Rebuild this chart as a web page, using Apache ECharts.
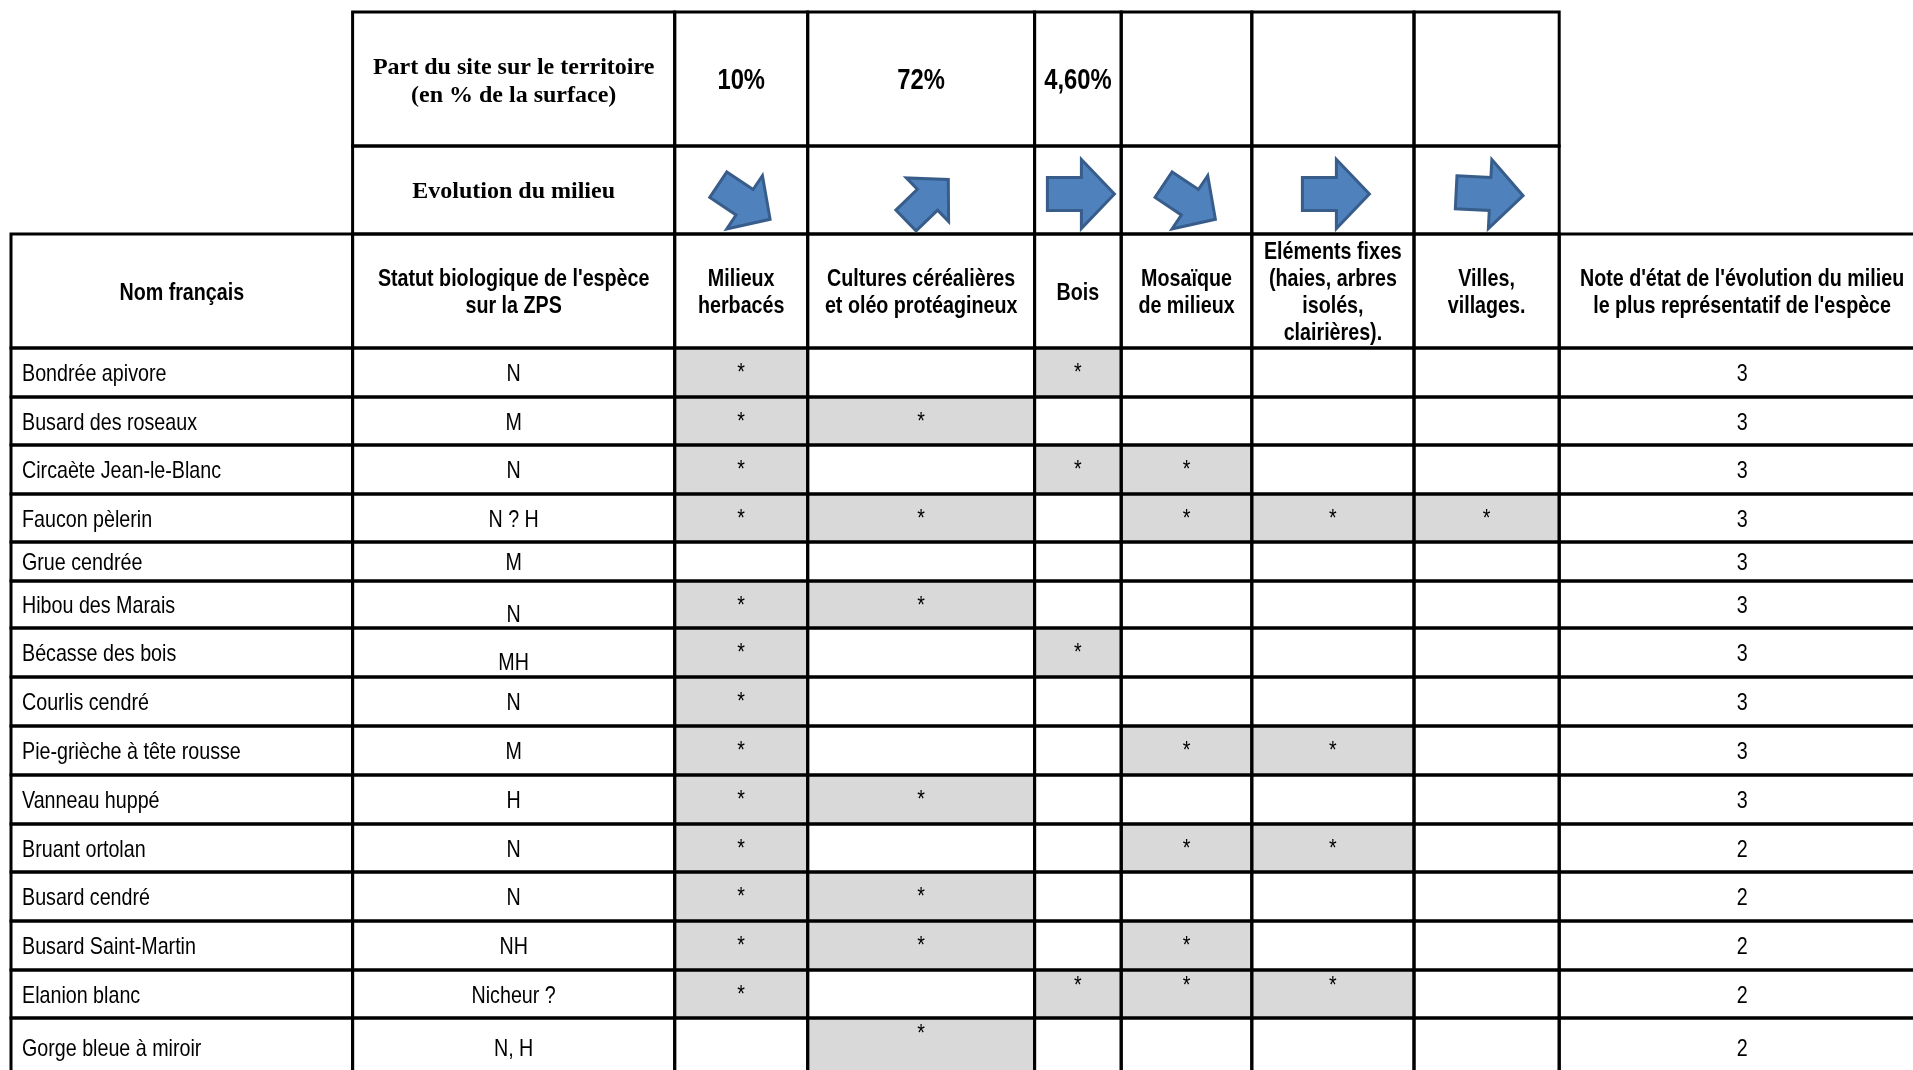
<!DOCTYPE html>
<html>
<head>
<meta charset="utf-8">
<title>Espèces et évolution des milieux</title>
<script src="https://cdn.jsdelivr.net/npm/echarts@6/dist/echarts.min.js"></script>
<style>
  html, body { margin: 0; padding: 0; background: #fff; }
  #main { width: 1913px; height: 1070px; }
</style>
</head>
<body>
<div id="main"></div>
<script>
// ---- data ----
const speciesNames = ['Bondrée apivore', 'Busard des roseaux', 'Circaète Jean-le-Blanc', 'Faucon pèlerin',
  'Grue cendrée', 'Hibou des Marais', 'Bécasse des bois', 'Courlis cendré', 'Pie-grièche à tête rousse',
  'Vanneau huppé', 'Bruant ortolan', 'Busard cendré', 'Busard Saint-Martin', 'Elanion blanc', 'Gorge bleue à miroir'];
const statusCodes = ['N', 'M', 'N', 'N ? H', 'M', 'N', 'MH', 'N', 'M', 'H', 'N', 'N', 'NH', 'Nicheur ?', 'N, H'];
const stateNotes = [3, 3, 3, 3, 3, 3, 3, 3, 3, 3, 2, 2, 2, 2, 2];
const habitatLabels = ['Milieux\nherbacés', 'Cultures céréalières\net oléo protéagineux', 'Bois', 'Mosaïque\nde milieux',
  'Eléments fixes\n(haies, arbres\nisolés,\nclairières).', 'Villes,\nvillages.'];
const siteShares = ['10%', '72%', '4,60%', '', '', ''];
const evolutionTrend = ['baisse', 'hausse', 'stable', 'baisse', 'stable', 'stable'];
// habitats used by each species (index in habitatLabels)
const speciesHabitats = [[0, 2], [0, 1], [0, 2, 3], [0, 1, 3, 4, 5], [], [0, 1], [0, 2], [0], [0, 3, 4],
  [0, 1], [0, 3, 4], [0, 1], [0, 1, 3], [0, 2, 3, 4], [1]];
const headShare = 'Part du site sur le territoire\n(en % de la surface)';
const headEvolution = 'Evolution du milieu';
const headName = 'Nom français';
const headStatus = "Statut biologique de l'espèce\nsur la ZPS";
const headNote = "Note d'état de l'évolution du milieu\nle plus représentatif de l'espèce";

// ---- layout ----
const colEdges = [11, 352.6, 674.7, 807.7, 1034.6, 1121.2, 1251.8, 1414, 1559.2, 1925];
const rowEdges = [12, 146, 234, 348, 397, 445, 494, 542, 581, 628, 677, 726, 775, 824, 872, 921, 970, 1018, 1076];
const lowStatus = [5, 6];
const highStars = ['13-2', '13-3', '13-4', '14-1'];
// no narrow font installed: squeeze Liberation Sans horizontally instead
const SANS = '"Liberation Sans", Arial, sans-serif';
const SERIF = '"Liberation Serif", "Times New Roman", serif';
const NARROW_SCALE = 0.82;
const TEXT_DY = 2;
const trendAngle = { baisse: -0.59, hausse: 0.77, stable: 0 };
const trendSize = { baisse: 0.93, hausse: 0.88, stable: 1 };
const arrowShift = [[0, 0], [3, -2], [0, 0], [0, 0], [0, 0], [0, 0]];
const arrowTilt = [0, 0, 0, 0, 0, -0.05];

function box(api, r, c) {
  const p0 = api.coord([colEdges[c], rowEdges[r]]);
  const p1 = api.coord([colEdges[c + 1], rowEdges[r + 1]]);
  return { x: p0[0], y: p0[1], width: p1[0] - p0[0], height: p1[1] - p0[1] };
}

function label(text, x, y, opt, scaleX) {
  return {
    type: 'text', x: x, y: y + TEXT_DY,
    scaleX: scaleX == null ? NARROW_SCALE : scaleX,
    style: Object.assign({
      text: text, fill: '#000', fontFamily: SANS, fontSize: 24, fontWeight: 'normal',
      align: 'center', verticalAlign: 'middle', lineHeight: 27
    }, opt || {})
  };
}

function cellText(r, c, b) {
  const cx = b.x + b.width / 2, cy = b.y + b.height / 2;
  if (r === 0) {
    if (c === 1) return label(headShare, cx, cy + 1, { fontFamily: SERIF, fontWeight: 'bold', fontSize: 24, lineHeight: 28 }, 1);
    return label(siteShares[c - 2], cx, cy, { fontWeight: 'bold', fontSize: 29 });
  }
  if (r === 1) {
    if (c === 1) return label(headEvolution, cx, cy, { fontFamily: SERIF, fontWeight: 'bold', fontSize: 24 }, 1);
    return null;
  }
  if (r === 2) {
    const t = c === 0 ? headName : c === 1 ? headStatus : c === 8 ? headNote : habitatLabels[c - 2];
    return label(t, cx, cy, { fontWeight: 'bold' });
  }
  const i = r - 3;
  if (c === 0) return label(speciesNames[i], b.x + 11, cy, { align: 'left' });
  if (c === 1) return label(statusCodes[i], cx, cy + (lowStatus.indexOf(i) >= 0 ? 9 : 0));
  if (c === 8) return label(String(stateNotes[i]), cx, cy);
  return null;
}

// every cell of the table
const tableCells = [];
for (let c = 1; c <= 7; c++) { tableCells.push([0, c]); tableCells.push([1, c]); }
for (let r = 2; r < rowEdges.length - 1; r++) {
  for (let c = 0; c <= 8; c++) tableCells.push([r, c]);
}
// shaded cells (habitat used)
const shadedCells = [];
speciesHabitats.forEach(function (list, i) {
  list.forEach(function (h) { shadedCells.push([i + 3, h + 2]); });
});

const chart = echarts.init(document.getElementById('main'));
const option = {
  backgroundColor: '#fff',
  animation: false,
  grid: { left: 0, right: 0, top: 0, bottom: 0 },
  xAxis: { type: 'value', min: 0, max: 1913, show: false },
  yAxis: { type: 'value', min: 0, max: 1070, inverse: true, show: false },
  series: [
    {
      name: 'habitats',
      type: 'custom',
      z: 1,
      data: shadedCells,
      renderItem: function (params, api) {
        const r = api.value(0), c = api.value(1);
        const b = box(api, r, c);
        const high = highStars.indexOf((r - 3) + '-' + (c - 2)) >= 0;
        return {
          type: 'group',
          children: [
            { type: 'rect', shape: b, style: { fill: '#d9d9d9' } },
            label('*', b.x + b.width / 2, b.y + (high ? 14 : 23.5))
          ]
        };
      }
    },
    {
      name: 'tableau',
      type: 'custom',
      z: 2,
      data: tableCells,
      renderItem: function (params, api) {
        const r = api.value(0), c = api.value(1);
        const b = box(api, r, c);
        const children = [{ type: 'rect', shape: b, style: { fill: 'none', stroke: '#000', lineWidth: 3 } }];
        const t = cellText(r, c, b);
        if (t) children.push(t);
        return { type: 'group', children: children };
      }
    },
    {
      name: 'evolution',
      type: 'custom',
      z: 3,
      data: evolutionTrend.map(function (t, i) { return [1, i + 2]; }),
      renderItem: function (params, api) {
        const k = params.dataIndex;
        const trend = evolutionTrend[k];
        const b = box(api, api.value(0), api.value(1));
        const s = trendSize[trend];
        const L = 67 * s, H = 69 * s, T = 33 * s, HL = 33 * s;
        const pts = [[-L / 2, -T / 2], [L / 2 - HL, -T / 2], [L / 2 - HL, -H / 2], [L / 2, 0],
          [L / 2 - HL, H / 2], [L / 2 - HL, T / 2], [-L / 2, T / 2]];
        return {
          type: 'polygon',
          x: b.x + b.width / 2 + 3 + arrowShift[k][0],
          y: b.y + (trend === 'stable' ? 48 : 56) + arrowShift[k][1],
          rotation: trendAngle[trend] + arrowTilt[k],
          shape: { points: pts },
          style: { fill: '#4f81bd', stroke: '#385d8a', lineWidth: 3, lineJoin: 'miter' }
        };
      }
    }
  ]
};
chart.setOption(option);
</script>
</body>
</html>
